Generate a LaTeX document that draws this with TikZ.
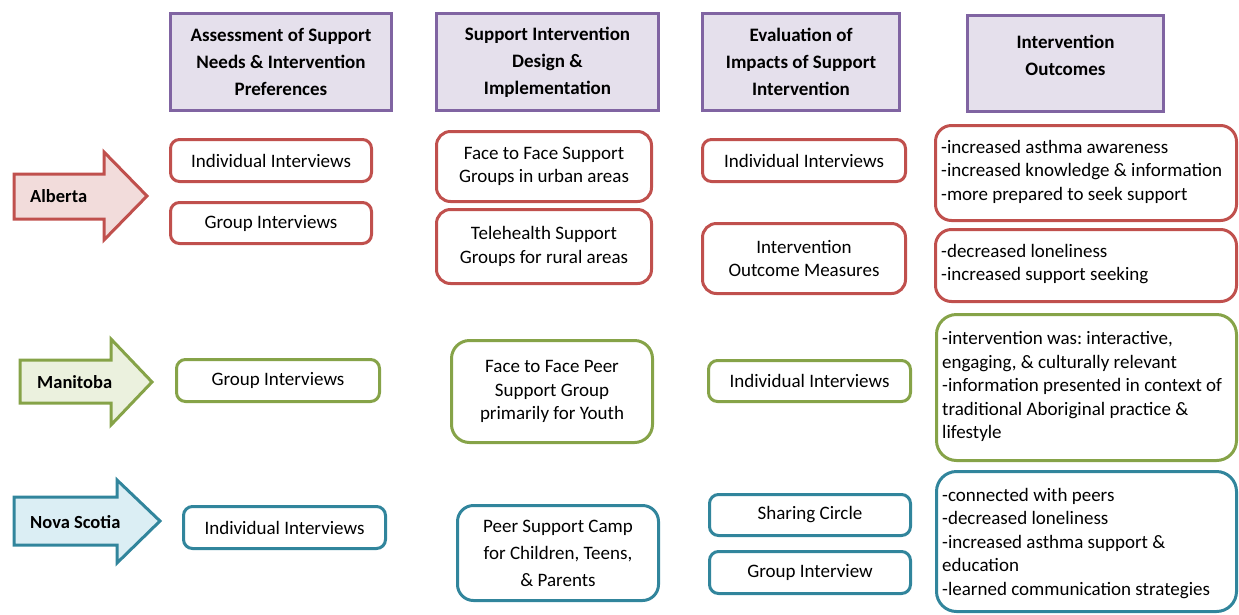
\documentclass[tikz,border=0pt]{standalone}
\usepackage{fontspec}
\setmainfont{Carlito}
\frenchspacing
\definecolor{hdrB}{RGB}{128,100,162}
\definecolor{hdrF}{RGB}{229,224,236}
\definecolor{redB}{RGB}{192,80,77}
\definecolor{redF}{RGB}{242,220,219}
\definecolor{grnB}{RGB}{134,163,72}
\definecolor{grnF}{RGB}{235,241,222}
\definecolor{bluB}{RGB}{49,133,156}
\definecolor{bluF}{RGB}{219,238,244}
\begin{document}
\begin{tikzpicture}[x=1pt,y=-1pt,
  hdr/.style={draw=hdrB, fill=hdrF, line width=3pt, align=center, inner sep=0pt,
    font=\bfseries\fontsize{19}{27}\selectfont},
  bx/.style={draw, fill=white, line width=3pt, align=center, inner sep=0pt,
    rounded corners=9pt, font=\fontsize{19}{23.5}\selectfont},
  outtext/.style={anchor=west, align=left, inner sep=0pt, font=\fontsize{19}{23.5}\selectfont},
  arr/.style={line width=3pt, line join=miter},
  lbl/.style={anchor=west, inner sep=0pt, font=\bfseries\fontsize{18.5}{22}\selectfont}]
\useasboundingbox (0,0) rectangle (1239,614);

% headers
\node[hdr, minimum width=221pt, minimum height=97pt] (h1) at (281,62)
  {Assessment of Support\\Needs \& Intervention\\Preferences};
\node[hdr, minimum width=222pt, minimum height=97pt] (h2) at (547.5,62)
  {Support Intervention\\Design \&\\Implementation};
\node[hdr, minimum width=197pt, minimum height=97pt] (h3) at (801,62)
  {Evaluation of\\Impacts of Support\\Intervention};
\node[hdr, minimum width=196pt, minimum height=96pt] (h4) at (1065.5,63.5) {};
\node[inner sep=0pt, align=center, font=\bfseries\fontsize{19}{27}\selectfont] (h4t) at (1065.5,55)
  {Intervention\\Outcomes};

% Alberta
\draw[arr, draw=redB, fill=redF] (14,174) -- (104,174) -- (104,152) -- (147,196)
  -- (104,240) -- (104,219) -- (14,219) -- cycle;
\node[lbl] (alb) at (30,196) {Alberta};
\node[bx, draw=redB, minimum width=201pt, minimum height=42pt] (a1a) at (271,160.5) {Individual Interviews};
\node[bx, draw=redB, minimum width=201pt, minimum height=41pt] (a1b) at (271,223) {Group Interviews};
\node[bx, draw=redB, rounded corners=14pt, minimum width=215pt, minimum height=70pt] (a2a) at (544,166.5)
  {Face to Face Support\\Groups in urban areas};
\node[bx, draw=redB, rounded corners=14pt, minimum width=215pt, minimum height=74pt] (a2b) at (544,246.5)
  {Telehealth Support\\Groups for rural areas};
\node[bx, draw=redB, minimum width=203pt, minimum height=42pt] (a3a) at (804,160.5) {Individual Interviews};
\node[bx, draw=redB, rounded corners=14pt, minimum width=203pt, minimum height=70pt] (a3b) at (804,258.5)
  {Intervention\\Outcome Measures};
\node[bx, draw=redB, rounded corners=16pt, minimum width=301pt, minimum height=95pt] (a4a) at (1086,173) {};
\node[outtext] (a4at) at (941,171.5)
  {-increased asthma awareness\\-increased knowledge \& information\\-more prepared to seek support};
\node[bx, draw=redB, rounded corners=16pt, minimum width=301pt, minimum height=72pt] (a4b) at (1086,265.5) {};
\node[outtext] (a4bt) at (941,264)
  {-decreased loneliness\\-increased support seeking};

% Manitoba
\draw[arr, draw=grnB, fill=grnF] (20,360) -- (111,360) -- (111,339) -- (152,382)
  -- (111,425) -- (111,403) -- (20,403) -- cycle;
\node[lbl] (man) at (37,382) {Manitoba};
\node[bx, draw=grnB, minimum width=203pt, minimum height=42pt] (m1) at (278,380.5) {Group Interviews};
\node[bx, draw=grnB, rounded corners=18pt, minimum width=201pt, minimum height=102pt] (m2) at (552,391.5)
  {Face to Face Peer\\Support Group\\primarily for Youth};
\node[bx, draw=grnB, minimum width=202pt, minimum height=41pt] (m3) at (809.5,381) {Individual Interviews};
\node[bx, draw=grnB, rounded corners=20pt, minimum width=300pt, minimum height=146pt] (m4) at (1086.5,387.5) {};
\node[outtext] (m4t) at (942,386.5)
  {-intervention was: interactive,\\engaging, \& culturally relevant\\-information presented in context of\\traditional Aboriginal practice \&\\lifestyle};

% Nova Scotia
\draw[arr, draw=bluB, fill=bluF] (14,497) -- (117,497) -- (117,480) -- (160,521)
  -- (117,563) -- (117,545) -- (14,545) -- cycle;
\node[lbl] (nov) at (30,522) {Nova Scotia};
\node[bx, draw=bluB, minimum width=202pt, minimum height=42pt] (n1) at (284.5,527.5) {Individual Interviews};
\node[bx, draw=bluB, rounded corners=16pt, minimum width=201pt, minimum height=95pt,
  font=\fontsize{19}{27}\selectfont] (n2) at (558,553)
  {Peer Support Camp\\for Children, Teens,\\\& Parents};
\node[bx, draw=bluB, minimum width=201pt, minimum height=41pt] (n3a) at (810,515) {Sharing Circle};
\node[bx, draw=bluB, minimum width=201pt, minimum height=42pt] (n3b) at (810,572.5) {Group Interview};
\node[bx, draw=bluB, rounded corners=20pt, minimum width=300pt, minimum height=140pt] (n4) at (1086.5,541.5) {};
\node[outtext] (n4t) at (942,543.5)
  {-connected with peers\\-decreased loneliness\\-increased asthma support \&\\education\\-learned communication strategies};
\end{tikzpicture}
\end{document}
